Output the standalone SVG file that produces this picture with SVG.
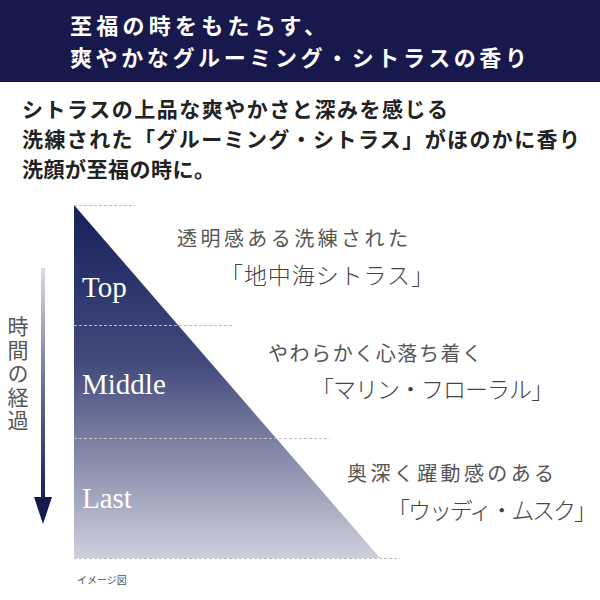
<svg xmlns="http://www.w3.org/2000/svg" width="600" height="600" viewBox="0 0 600 600">
<defs>
<linearGradient id="triGrad" x1="0" y1="205" x2="0" y2="558" gradientUnits="userSpaceOnUse">
<stop offset="0" stop-color="#16205a"/>
<stop offset="0.45" stop-color="#434b7c"/>
<stop offset="1" stop-color="#cfcfdb"/>
</linearGradient>
<linearGradient id="arrowGrad" x1="0" y1="268" x2="0" y2="505" gradientUnits="userSpaceOnUse">
<stop offset="0" stop-color="#dcdce4"/>
<stop offset="0.5" stop-color="#6a6f98"/>
<stop offset="1" stop-color="#141a4e"/>
</linearGradient>
<style>
.hdr{font-family:"Noto Sans CJK JP","Liberation Serif",serif;font-size:22px;font-weight:bold;fill:#ffffff}
.sub{font-family:"Noto Sans CJK JP","Liberation Serif",serif;font-size:21px;font-weight:bold;fill:#222222}
.note1{font-family:"Noto Sans CJK JP",sans-serif;font-size:20px;fill:#555555}
.note2{font-family:"Noto Sans CJK JP",serif;font-size:23px;fill:#444444;font-weight:300}
.lbl{font-family:"Liberation Serif","DejaVu Serif",serif;font-size:29px;fill:#ffffff}
.vt{font-family:"Noto Sans CJK JP",sans-serif;font-size:21px;fill:#555555;writing-mode:vertical-rl;letter-spacing:2.5px}
.dash{stroke:#bdbdc4;stroke-width:1;stroke-dasharray:3 2;fill:none}
.cap{font-family:"Noto Sans CJK JP",sans-serif;font-size:10px;fill:#555555}
</style>
</defs>
<rect x="0" y="0" width="600" height="82" fill="#17184b"/>
<text class="hdr" x="70" y="34" textLength="256" lengthAdjust="spacing">至福の時をもたらす、</text>
<text class="hdr" x="70" y="66" textLength="457" lengthAdjust="spacing">爽やかなグルーミング・シトラスの香り</text>
<text class="sub" x="22" y="117" textLength="426" lengthAdjust="spacing">シトラスの上品な爽やかさと深みを感じる</text>
<text class="sub" x="22" y="147" textLength="558" lengthAdjust="spacing">洗練された「グルーミング・シトラス」がほのかに香り</text>
<text class="sub" x="22" y="177" textLength="193" lengthAdjust="spacing">洗顔が至福の時に。</text>
<g id="pyramid">
<polygon points="74,205 74,558 380,558" fill="url(#triGrad)"/>
</g>
<g id="guides">
<line class="dash" x1="74" y1="205.5" x2="135" y2="205.5"/>
<line class="dash" x1="74" y1="325.5" x2="233" y2="325.5"/>
<line class="dash" x1="74" y1="438.5" x2="330" y2="438.5"/>
<line class="dash" x1="74" y1="558.5" x2="400" y2="558.5"/>
</g>
<g id="top">
<text class="lbl" x="82" y="297">Top</text>
<text class="note1" x="177" y="246" textLength="231" lengthAdjust="spacing">透明感ある洗練された</text>
<text class="note2" x="220" y="284" textLength="214" lengthAdjust="spacing">「地中海シトラス」</text>
</g>
<g id="middle">
<text class="lbl" x="82" y="394">Middle</text>
<text class="note1" x="268" y="361" textLength="214" lengthAdjust="spacing">やわらかく心落ち着く</text>
<text class="note2" x="311" y="398" textLength="243" lengthAdjust="spacing">「マリン・フローラル」</text>
</g>
<g id="last">
<text class="lbl" x="82" y="508">Last</text>
<text class="note1" x="347" y="481" textLength="207" lengthAdjust="spacing">奥深く躍動感のある</text>
<text class="note2" x="387" y="519" textLength="210" lengthAdjust="spacing">「ウッディ・ムスク」</text>
</g>
<g id="time-arrow">
<rect x="41" y="268" width="4" height="236" fill="url(#arrowGrad)"/>
<polygon points="34,497 52,497 43,524" fill="#141a4e"/>
<text class="vt" x="18" y="316">時間の経過</text>
</g>
<text class="cap" x="77" y="584">イメージ図</text>
</svg>
